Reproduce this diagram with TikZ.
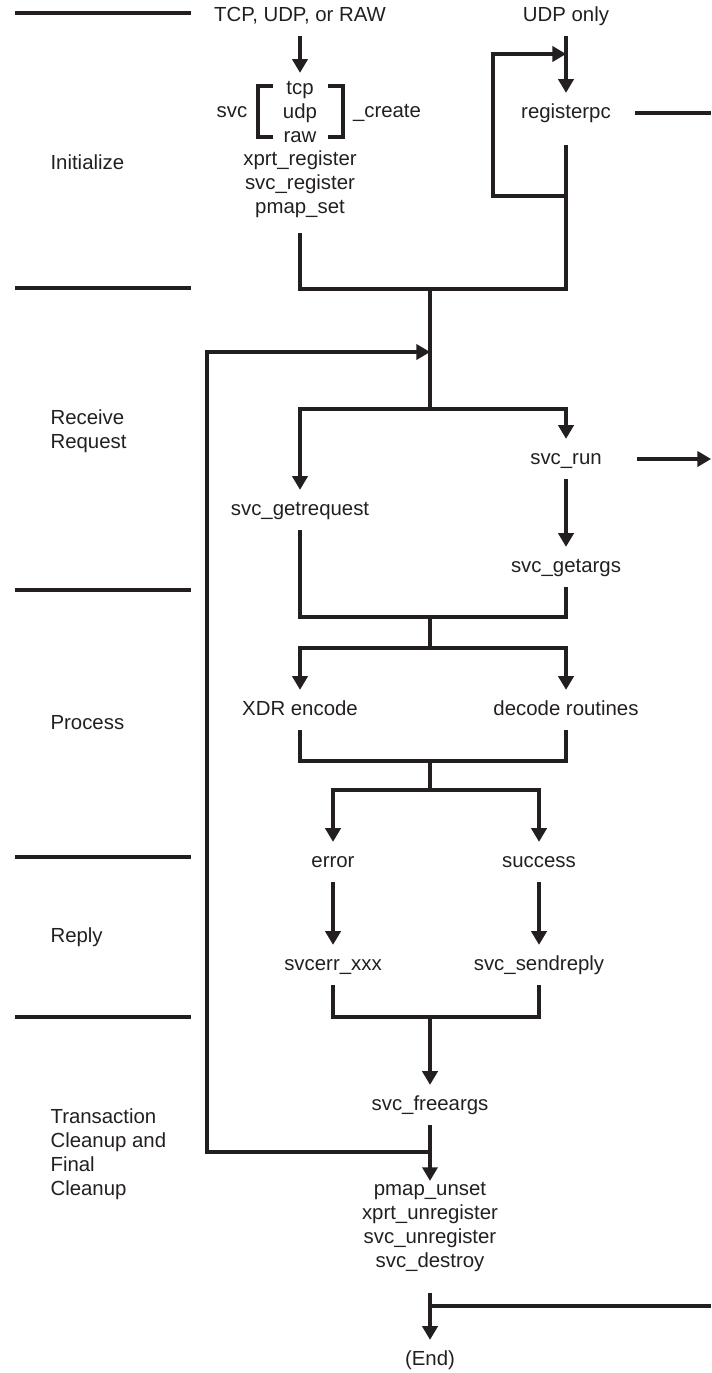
\documentclass[tikz,border=0pt]{standalone}
\usepackage{fontspec}
\setmainfont{Liberation Sans}
\usetikzlibrary{arrows.meta}
\definecolor{ink}{HTML}{231F20}

\begin{document}
\begin{tikzpicture}[x=0.025cm, y=-0.025cm, line width=2.2pt, color=ink,
    lbl/.style={font=\fontsize{14.5}{17}\selectfont, text height=10.5pt, text depth=3pt, inner xsep=2pt, inner ysep=6.5pt},
    stack/.style={font=\fontsize{14.5}{17}\selectfont, align=center, inner xsep=2pt, inner ysep=5pt},
    phase/.style={font=\fontsize{14.5}{17}\selectfont, align=left, anchor=west, inner sep=0pt},
    arr/.style={-{Triangle[length=3.4mm,width=3.8mm]}}]
  \useasboundingbox (0,0) rectangle (711,1373);

  \foreach \y in {13,288,590,857,1017}
    \draw (15,\y) -- (191,\y);
  \node[phase] (init) at (49,162) {Initialize};
  \node[phase] (recv) at (49,431) {Receive\\Request};
  \node[phase] (proc) at (49,723) {Process};
  \node[phase] (reply) at (49,937) {Reply};
  \node[phase] (clean) at (49,1154) {Transaction\\Cleanup and\\Final\\Cleanup};

  \node[lbl] (tcpudp) at (300,16) {TCP, UDP, or RAW};
  \node[lbl] (udponly) at (566,16) {UDP only};
  \node[stack] (svcstack) at (300,112) {tcp\\udp\\raw};
  \node[lbl] (svc) at (232,112) {svc};
  \node[lbl] (create) at (387,112) {\_create};
  \draw (273,86) -| (258,137) -- (273,137);
  \draw (328,86) -| (343,137) -- (328,137);
  \node[stack] (initstack) at (300,184) {xprt\_register\\svc\_register\\pmap\_set};
  \node[lbl] (regpc) at (566,113) {registerpc};
  \draw[arr] (tcpudp.south) -- (svcstack.north);
  \draw[arr] (udponly.south) -- (regpc.north);
  \coordinate (regout) at (711,113);
  \draw[shorten <=14pt] (regpc.east) -- (regout);
  \coordinate (loopin) at (566,54);
  \coordinate (loopout) at (566,196);
  \draw[arr] (loopout) -- ++(-73,0) |- (loopin);

  \coordinate (jinit) at (430,289);
  \coordinate (jback) at (430,352);
  \coordinate (jsplit) at (430,409);
  \draw[shorten <=5pt] (initstack.south) |- (jinit);
  \draw[shorten <=8.5pt] (regpc.south) |- (jinit);
  \draw (jinit) -- (jsplit);

  \node[lbl] (getreq) at (300,510) {svc\_getrequest};
  \node[lbl] (svcrun) at (566,459) {svc\_run};
  \node[lbl] (getargs) at (566,567) {svc\_getargs};
  \draw[arr] (jsplit) -| (getreq.north);
  \draw[arr] (jsplit) -| (svcrun.north);
  \draw[arr] (svcrun.south) -- (getargs.north);
  \coordinate (runout) at (711,459);
  \draw[arr, shorten <=22pt] (svcrun.east) -- (runout);

  \coordinate (jproc) at (430,617);
  \coordinate (jproc2) at (430,648);
  \draw (getreq.south) |- (jproc);
  \draw (getargs.south) |- (jproc);
  \draw (jproc) -- (jproc2);
  \node[lbl] (xdr) at (300,710) {XDR encode};
  \node[lbl] (decode) at (566,710) {decode routines};
  \draw[arr] (jproc2) -| (xdr.north);
  \draw[arr] (jproc2) -| (decode.north);

  \coordinate (jrep) at (430,761);
  \coordinate (jrep2) at (430,790);
  \draw (xdr.south) |- (jrep);
  \draw (decode.south) |- (jrep);
  \draw (jrep) -- (jrep2);
  \node[lbl] (error) at (333,862) {error};
  \node[lbl] (success) at (539,862) {success};
  \draw[arr] (jrep2) -| (error.north);
  \draw[arr] (jrep2) -| (success.north);
  \node[lbl] (svcerr) at (333,965) {svcerr\_xxx};
  \node[lbl] (sendreply) at (539,965) {svc\_sendreply};
  \draw[arr] (error.south) -- (svcerr.north);
  \draw[arr] (success.south) -- (sendreply.north);

  \coordinate (jfin) at (430,1017);
  \draw (svcerr.south) |- (jfin);
  \draw (sendreply.south) |- (jfin);
  \node[lbl] (freeargs) at (430,1105) {svc\_freeargs};
  \draw[arr] (jfin) -- (freeargs.north);
  \node[stack] (cleanup) at (430,1227) {pmap\_unset\\xprt\_unregister\\svc\_unregister\\svc\_destroy};
  \draw[arr, shorten >=-5pt] (freeargs.south) -- (cleanup.north);
  \coordinate (jloop) at (430,1152);
  \draw[arr] (jloop) -- ++(-223,0) |- (jback);
  \node[lbl] (endnode) at (430,1360) {(End)};
  \draw[arr, shorten <=9pt] (cleanup.south) -- (endnode.north);
  \coordinate (jend) at (430,1306);
  \coordinate (endout) at (711,1306);
  \draw (jend) -- (endout);
\end{tikzpicture}
\end{document}
